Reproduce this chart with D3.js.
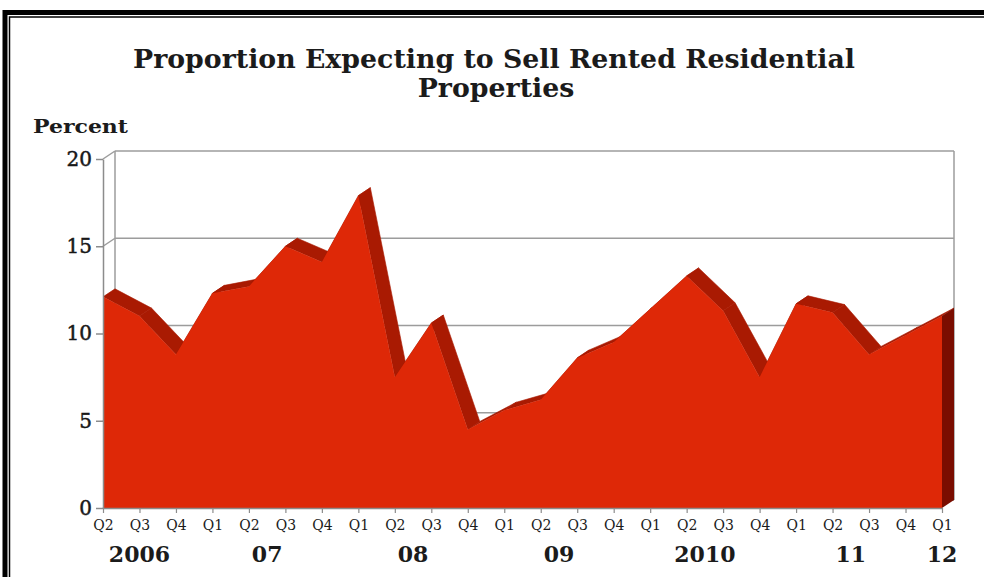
<!DOCTYPE html>
<html><head><meta charset="utf-8">
<script src="https://cdn.jsdelivr.net/npm/d3@7"></script>
<style>
html,body{margin:0;padding:0;background:#fff;}
svg{display:block;}
text{font-family:"DejaVu Serif",serif;fill:#1b1b1b;}
</style></head><body>
<svg id="chart" width="984" height="577"></svg>
<script>
// Quarterly survey readings, 2006 Q2 - 2012 Q1
const periods = ["2006Q2","2006Q3","2006Q4",
  "2007Q1","2007Q2","2007Q3","2007Q4",
  "2008Q1","2008Q2","2008Q3","2008Q4",
  "2009Q1","2009Q2","2009Q3","2009Q4",
  "2010Q1","2010Q2","2010Q3","2010Q4",
  "2011Q1","2011Q2","2011Q3","2011Q4",
  "2012Q1"];
const quarterLabels = periods.map(p => p.slice(4));
const values = [12.1, 11.0, 8.8,
  12.3, 12.7, 15.0, 14.1,
  17.9, 7.5, 10.6, 4.5,
  5.6, 6.2, 8.6, 9.5,
  11.4, 13.3, 11.3, 7.5,
  11.7, 11.2, 8.8, 9.9,
  11.0];
const yearKeys = ["2006","2007","2008","2009","2010","2011","2012"];
const yearLabels = ["2006","07","08","09","2010","11","12"];
const yTicks = [0, 5, 10, 15, 20];
const titleLines = ["Proportion Expecting to Sell Rented Residential", "Properties"];
const yUnit = "Percent";

const svg = d3.select("#chart");
const W = 984, H = 577;

// double-line frame
svg.append("rect").attr("x", 5).attr("y", 12.5).attr("width", W + 10).attr("height", H + 10)
  .attr("fill", "none").attr("stroke", "#000").attr("stroke-width", 5);
svg.append("rect").attr("x", 9.5).attr("y", 17).attr("width", W + 10).attr("height", H + 10)
  .attr("fill", "none").attr("stroke", "#000").attr("stroke-width", 1.5);

const x0 = 103, x1 = 942, yBase = 508, yTop = 159;
const dx = 12, dy = -8; // depth offset of the back wall

const x = d3.scalePoint().domain(periods).range([x0, x1]);
const y = d3.scaleLinear().domain([0, 20]).range([yBase, yTop]);

const grid = svg.append("g").attr("stroke", "#9c9c9c").attr("stroke-width", 1.5).attr("fill", "none");
// back wall and side wall gridlines
yTicks.forEach(v => {
  grid.append("line").attr("x1", x0 + dx).attr("x2", x1 + dx)
    .attr("y1", y(v) + dy).attr("y2", y(v) + dy);
  grid.append("line").attr("x1", x0).attr("x2", x0 + dx)
    .attr("y1", y(v)).attr("y2", y(v) + dy);
});
grid.append("line").attr("x1", x0 + dx).attr("x2", x0 + dx).attr("y1", y(20) + dy).attr("y2", y(0) + dy);
grid.append("line").attr("x1", x1 + dx).attr("x2", x1 + dx).attr("y1", y(20) + dy).attr("y2", y(0) + dy);

const pts = periods.map((p, i) => ({ x: x(p), y: y(values[i]) }));

// top surface of the ribbon
const ridge = svg.append("g").attr("fill", "#a91a02").attr("stroke", "#a91a02").attr("stroke-width", 0.6);
for (let i = 0; i < pts.length - 1; i++) {
  const a = pts[i], b = pts[i + 1];
  ridge.append("polygon").attr("points", [
    [a.x, a.y], [b.x, b.y], [b.x + dx, b.y + dy], [a.x + dx, a.y + dy]
  ].map(p => p.join(",")).join(" "));
}
// right end face
const last = pts[pts.length - 1];
svg.append("polygon").attr("fill", "#7a0d00").attr("points", [
  [last.x, last.y], [last.x + dx, last.y + dy], [last.x + dx, yBase + dy], [last.x, yBase]
].map(p => p.join(",")).join(" "));

// front face
const area = d3.area().x((d, i) => x(periods[i])).y0(y(0)).y1(d => y(d));
svg.append("path").datum(values).attr("d", area).attr("fill", "#de2807");

// y axis
const yAxis = svg.append("g").attr("transform", `translate(${x0},0)`)
  .call(d3.axisLeft(y).tickValues(yTicks).tickSize(7).tickPadding(4).tickSizeOuter(0));
yAxis.select(".domain").attr("stroke", "#8c8c8c").attr("stroke-width", 1.5);
yAxis.selectAll(".tick line").attr("stroke", "#8c8c8c").attr("stroke-width", 1.5);
yAxis.selectAll(".tick text").attr("font-size", 20).attr("font-family", "DejaVu Serif")
  .attr("fill", "#111").attr("stroke", "#111").attr("stroke-width", 0.45);

// x axis
const xAxis = svg.append("g").attr("transform", `translate(0,${yBase})`)
  .call(d3.axisBottom(x).tickSize(5).tickSizeOuter(0).tickFormat((d, i) => quarterLabels[i]));
xAxis.select(".domain").attr("stroke", "#8c8c8c").attr("stroke-width", 1.5);
xAxis.selectAll(".tick line").attr("stroke", "#8c8c8c").attr("stroke-width", 1.2);
xAxis.selectAll(".tick text").attr("font-size", 14).attr("font-family", "DejaVu Serif")
  .attr("fill", "#2a2a2a").attr("y", 22).attr("dy", 0);

// year labels centred under their quarters
yearKeys.forEach((yr, k) => {
  const xs = periods.filter(p => p.startsWith(yr)).map(p => x(p));
  svg.append("text").attr("x", d3.mean(xs)).attr("y", 562).attr("text-anchor", "middle")
    .attr("font-size", 22).attr("font-weight", "bold").text(yearLabels[k]);
});

// title and unit label
const t1 = svg.append("text").attr("x", 494).attr("y", 68).attr("text-anchor", "middle")
  .attr("font-size", 26).attr("font-weight", "bold").text(titleLines[0]);
const w1 = t1.node().getComputedTextLength();
const scale = 722 / w1;
t1.attr("textLength", 722).attr("lengthAdjust", "spacingAndGlyphs");
const t2 = svg.append("text").attr("x", 496).attr("y", 97).attr("text-anchor", "middle")
  .attr("font-size", 26).attr("font-weight", "bold").text(titleLines[1]);
t2.attr("textLength", t2.node().getComputedTextLength() * scale).attr("lengthAdjust", "spacingAndGlyphs");

svg.append("text").attr("x", 33).attr("y", 133).attr("font-size", 19).attr("font-weight", "bold")
  .attr("textLength", 95).attr("lengthAdjust", "spacingAndGlyphs").text(yUnit);
</script>
</body></html>
